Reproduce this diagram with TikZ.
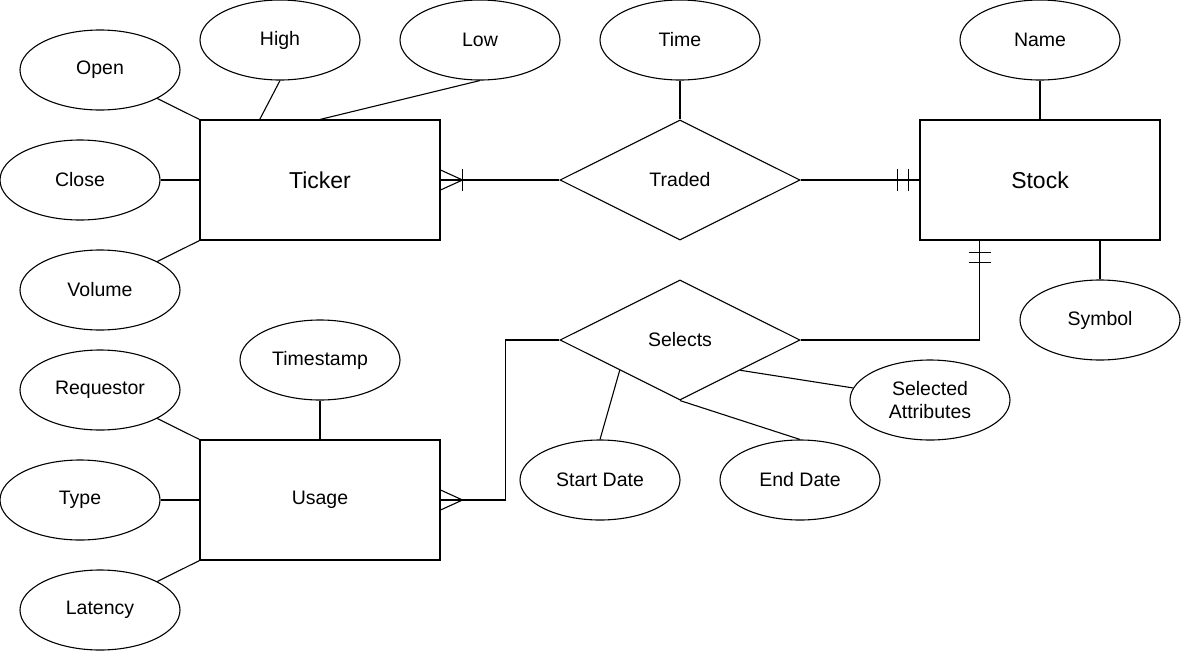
\documentclass[tikz,border=0pt]{standalone}
\usepackage{fontspec}
\setmainfont{Liberation Sans}
\usetikzlibrary{shapes.geometric,calc}
\begin{document}
\begin{tikzpicture}[x=1pt,y=-1pt,line width=1.1pt,
  entbox/.style={draw,rectangle,minimum width=240,minimum height=120,inner sep=0,font=\fontsize{23}{27}\selectfont},
  entsmall/.style={entbox,font=\fontsize{19.5}{23}\selectfont},
  attr/.style={draw,ellipse,minimum width=160,minimum height=80,inner sep=0,align=center,font=\fontsize{19.5}{23}\selectfont},
  relbox/.style={draw,diamond,aspect=2,minimum width=240,minimum height=120,inner sep=0,font=\fontsize{19.5}{23}\selectfont}]
\useasboundingbox (0,0) rectangle (1181,651);
% entities
\node[entbox] (ticker) at (320,180) {Ticker};
\node[entbox] (stock) at (1040,180) {Stock};
\node[entsmall] (usage) at (320,500) {Usage};
% relationships
\node[relbox] (traded) at (680,180) {Traded};
\node[relbox] (selects) at (680,340) {Selects};
% attributes
\node[attr] (open) at (100,70) {Open};
\node[attr] (high) at (280,40) {High};
\node[attr] (low) at (480,40) {Low};
\node[attr] (close) at (80,180) {Close};
\node[attr] (volume) at (100,290) {Volume};
\node[attr] (time) at (680,40) {Time};
\node[attr] (name) at (1040,40) {Name};
\node[attr] (symbol) at (1100,320) {Symbol};
\node[attr] (timestamp) at (320,360) {Timestamp};
\node[attr] (requestor) at (100,390) {Requestor};
\node[attr] (type) at (80,500) {Type};
\node[attr] (latency) at (100,610) {Latency};
\node[attr] (startd) at (600,480) {Start Date};
\node[attr] (endd) at (800,480) {End Date};
\node[attr] (selattr) at (930,400) {Selected\\Attributes};
% attribute connectors
\draw (open) -- (ticker.north west);
\draw (high.south) -- ($(ticker.north west)!0.25!(ticker.north east)$);
\draw (low.south) -- (ticker.north);
\draw (close) -- (ticker.west);
\draw (volume) -- (ticker.south west);
\draw (time) -- (traded.north);
\draw (name) -- (stock.north);
\draw (symbol) -- (stock.south -| symbol);
\draw (timestamp) -- (usage.north);
\draw (requestor) -- (usage.north west);
\draw (type) -- (usage.west);
\draw (latency) -- (usage.south west);
\draw (startd.north) -- ($(selects.west)!0.5!(selects.south)$);
\draw (endd.north) -- (selects.south);
\draw (selattr) -- ($(selects.south)!0.5!(selects.east)$);
% Ticker -- Traded (one or many at Ticker)
\draw (ticker.east) -- (traded.west);
\draw ($(ticker.east)+(22,-11)$) -- ($(ticker.east)+(22,11)$);
\draw ($(ticker.east)+(0,-10)$) -- ($(ticker.east)+(22,0)$) -- ($(ticker.east)+(0,10)$);
% Traded -- Stock (mandatory one)
\draw (traded.east) -- (stock.west);
\draw ($(stock.west)+(-22,-11)$) -- ($(stock.west)+(-22,11)$);
\draw ($(stock.west)+(-11,-11)$) -- ($(stock.west)+(-11,11)$);
% Selects -- Stock (mandatory one)
\coordinate (sb) at ($(stock.south west)!0.25!(stock.south east)$);
\draw (selects.east) -| (sb);
\draw ($(sb)+(-11,12)$) -- ($(sb)+(11,12)$);
\draw ($(sb)+(-11,22)$) -- ($(sb)+(11,22)$);
% Usage -- Selects (many at Usage)
\coordinate (ub) at ($(usage.east)+(65,0)$);
\draw (usage.east) -- (ub) |- (selects.west);
\draw ($(usage.east)+(0,-10)$) -- ($(usage.east)+(22,0)$) -- ($(usage.east)+(0,10)$);
\end{tikzpicture}
\end{document}
